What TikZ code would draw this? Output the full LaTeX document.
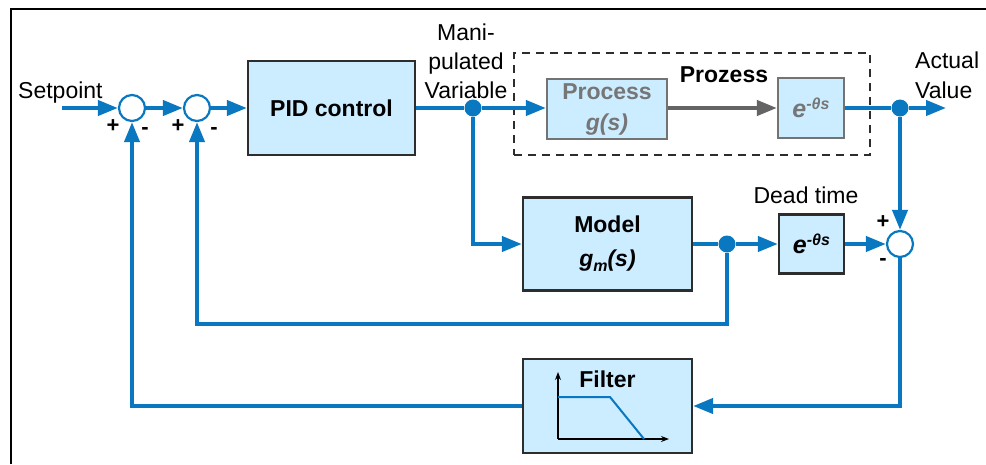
\documentclass[tikz,border=0pt]{standalone}
\usepackage{fontspec}
\setmainfont{Liberation Sans}
\usetikzlibrary{arrows.meta}
\definecolor{flowblue}{RGB}{10,120,192}
\definecolor{boxfill}{RGB}{204,236,255}
\definecolor{boxline}{RGB}{45,45,45}
\definecolor{greyline}{RGB}{115,115,115}
\definecolor{greytext}{RGB}{118,118,118}
\definecolor{greyarrow}{RGB}{100,100,100}
% exponent e^{-theta s}
\newcommand{\deadexp}{{\fontsize{25}{29}\selectfont e}\raisebox{7.5pt}{\fontsize{16}{16}\selectfont -θs}}
\begin{document}
\begin{tikzpicture}[x=1pt, y=-1pt, line join=miter,
  every node/.style={font=\fontsize{23}{29}\selectfont, inner sep=0pt},
  flow/.style={draw=flowblue, line width=4pt},
  tip/.style={-{Triangle[length=20pt,width=15pt]}},
  blk/.style={draw=boxline, line width=2.2pt, fill=boxfill, align=center,
    font=\bfseries\fontsize{23}{29}\selectfont},
  gblk/.style={draw=greyline, line width=2.2pt, fill=boxfill, text=greytext, align=center,
    font=\bfseries\fontsize{23}{29}\selectfont},
  sumc/.style={circle, draw=flowblue, line width=2.2pt, fill=white, minimum size=26pt},
  dot/.style={circle, fill=flowblue, minimum size=17pt},
  sign/.style={font=\bfseries\fontsize{22}{22}\selectfont},
  axis/.style={line width=1.2pt, -{Stealth[length=8pt,width=6pt]}}]

% canvas and frame
\fill[white] (0,0) rectangle (986,464);
\useasboundingbox (0,0) rectangle (986,464);
\draw[line width=2pt] (10.5,464) -- (10.5,8.5) -- (986,8.5);

% plant group
\node[draw=boxline, line width=2pt, dash pattern=on 8pt off 6pt,
  minimum width=356pt, minimum height=102pt] (plant) at (692,104) {};
\node[anchor=base, font=\bfseries\fontsize{23}{29}\selectfont] (plantlbl) at (724,82) {Prozess};

% blocks
\node[blk, minimum width=167pt, minimum height=94pt] (pid) at (331.5,108) {PID control};
\node[gblk, minimum width=120pt, minimum height=60pt] (proc) at (607,109)
  {Process\\[2pt]{\itshape g(s)}};
\node[gblk, minimum width=66pt, minimum height=60pt, font=\bfseries\itshape\fontsize{23}{29}\selectfont] (pdead) at (811,108) {\deadexp};
\node[blk, minimum width=169pt, minimum height=93pt] (model) at (607.5,244)
  {\raisebox{-3pt}{Model}\\[8pt]{\itshape g\raisebox{-5pt}{\fontsize{16}{16}\selectfont m}(s)}};
\node[blk, minimum width=65pt, minimum height=59pt, font=\bfseries\itshape\fontsize{23}{29}\selectfont] (mdead) at (811.5,244) {\deadexp};
\node[blk, minimum width=169pt, minimum height=94pt] (filter) at (607.5,406) {};
\node[anchor=base, font=\bfseries\fontsize{23}{29}\selectfont] (filterlbl) at (607.5,387) {Filter};

% filter characteristic
\draw[axis] (558,439) -- (558,372);
\draw[axis] (558,439) -- (669,439);
\draw[flowblue, line width=2pt] (558,397) -- (610,397) -- (644,439);

% summing points and branch dots
\node[sumc] (s1) at (132,108) {};
\node[sumc] (s2) at (197,108) {};
\node[sumc] (s3) at (900,244) {};
\node[dot] (j1) at (473,108) {};
\node[dot] (j2) at (900,108) {};
\node[dot] (j3) at (727,244) {};
\coordinate (sp) at (62,108);
\coordinate (out) at (946,108);
\coordinate (fb) at (727,324);

% signs
\node[sign] at (113,126) {+};
\node[sign] at (145,131) {-};
\node[sign] at (178,126) {+};
\node[sign] at (214,131) {-};
\node[sign] at (883,222) {+};
\node[sign] at (883,262) {-};

% text labels
\node[anchor=base west] (setp) at (18,98) {Setpoint};
\node[anchor=base] (mv1) at (466,40) {Mani-};
\node[anchor=base] (mv2) at (466,69) {pulated};
\node[anchor=base] (mv3) at (466,98) {Variable};
\node[anchor=base west] (av1) at (915,68) {Actual};
\node[anchor=base west] (av2) at (915,98) {Value};
\node[anchor=base] (dtl) at (806,203) {Dead time};

% signal flow
\draw[flow, tip] (sp) -- (s1);
\draw[flow, tip] (s1) -- (s2);
\draw[flow, tip] (s2) -- (pid);
\draw[flow] (pid) -- (j1);
\draw[flow, tip] (j1) -- (proc.west |- j1);
\draw[draw=greyarrow, line width=4pt, tip] (proc.east |- pdead) -- (pdead);
\draw[flow] (pdead) -- (j2);
\draw[flow, tip] (j2) -- (out);
\draw[flow, tip] (j1) |- (model);
\draw[flow] (model) -- (j3);
\draw[flow, tip] (j3) -- (mdead);
\draw[flow, tip] (mdead) -- (s3);
\draw[flow, tip] (j2) -- (s3);
\draw[flow, tip] (s3) |- (filter);
\draw[flow, tip] (filter) -| (s1);
\draw[flow, tip] (j3) -- (fb) -| (s2);
\end{tikzpicture}
\end{document}
